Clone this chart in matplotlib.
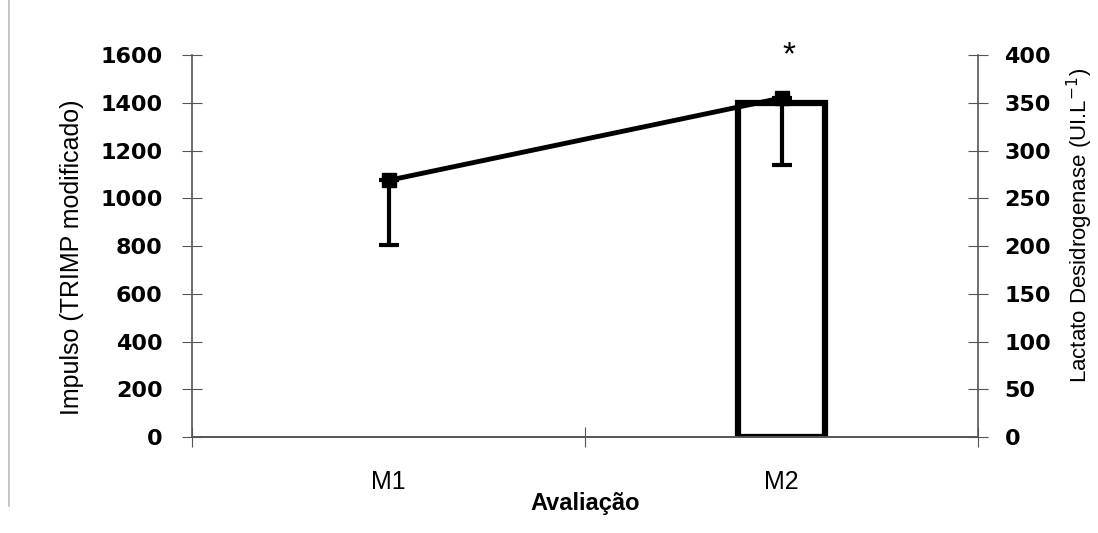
import numpy as np
import matplotlib.pyplot as plt
from matplotlib.lines import Line2D

# dados
avaliacao = ['M1', 'M2']
trimp = [1075, 1420]          # impulso (TRIMP modificado)
trimp_err_baixo = [270, 280]  # barra de erro so para baixo
ldh = [np.nan, 350]           # lactato desidrogenase (UI.L-1)

left_ticks = [0, 200, 400, 600, 800, 1000, 1200, 1400, 1600]
right_ticks = [0, 50, 100, 150, 200, 250, 300, 350, 400]

plt.rcParams['font.family'] = ['Liberation Sans', 'DejaVu Sans']

fig = plt.figure(figsize=(10.98, 5.33), dpi=100)
ax = fig.add_axes([0.1749, 0.180, 0.7158, 0.7168])
ax2 = ax.twinx()

x = np.arange(len(avaliacao))

# barras no eixo da direita
ax2.bar(x, ldh, width=0.22, facecolor='white', edgecolor='black', linewidth=4.5, zorder=2)
ax2.set_ylim(0, 400)
ax2.set_yticks(right_ticks)

# linha no eixo da esquerda, por cima das barras
ax.set_zorder(ax2.get_zorder() + 1)
ax.patch.set_visible(False)
ax.errorbar(x, trimp, yerr=[trimp_err_baixo, [0, 0]], color='black', linewidth=3.5,
            marker='s', markersize=10, elinewidth=3, capsize=7, capthick=3)
ax.set_ylim(0, 1600)
ax.set_yticks(left_ticks)
ax.set_xlim(-0.5, 1.5)
ax.set_xticks([-0.5, 0.5, 1.5])
ax.set_xticklabels([])
ax.set_xticks(x, minor=True)
ax.set_xticklabels(avaliacao, minor=True)
ax.tick_params(axis='x', which='minor', length=0, pad=24, labelsize=18)
ax.tick_params(axis='x', which='major', direction='inout', length=14, color='#555555')

for a in (ax, ax2):
    a.spines['top'].set_visible(False)
    for s in ('left', 'right', 'bottom'):
        a.spines[s].set_color('#555555')
        a.spines[s].set_linewidth(1.2)

ax.spines['right'].set_visible(False)
ax2.spines['left'].set_visible(False)
ax.tick_params(axis='y', direction='inout', length=14, color='#555555', pad=14)
ax2.tick_params(axis='y', direction='inout', length=14, color='#555555', pad=12)
for lab in ax.get_yticklabels() + ax2.get_yticklabels():
    lab.set_fontweight('bold')
    lab.set_fontsize(16)
    lab.set_family('DejaVu Sans')

ax.set_ylabel('Impulso (TRIMP modificado)', fontsize=18, labelpad=12)
ax2.set_ylabel('Lactato Desidrogenase (UI.L$^{-1}$)', fontsize=16, labelpad=10)
ax.yaxis.label.set_y(0.47)
ax2.yaxis.label.set_y(0.555)
ax.set_xlabel('Avaliação', fontsize=17, fontweight='bold', labelpad=-2)

ax.text(1.02, 1595, '*', ha='center', va='center', fontsize=24)

# borda cinza a esquerda
fig.add_artist(Line2D([0.008, 0.008], [0.05, 1.0], color='#bbbbbb', linewidth=1.2))

fig.savefig('out.png', dpi=100)
